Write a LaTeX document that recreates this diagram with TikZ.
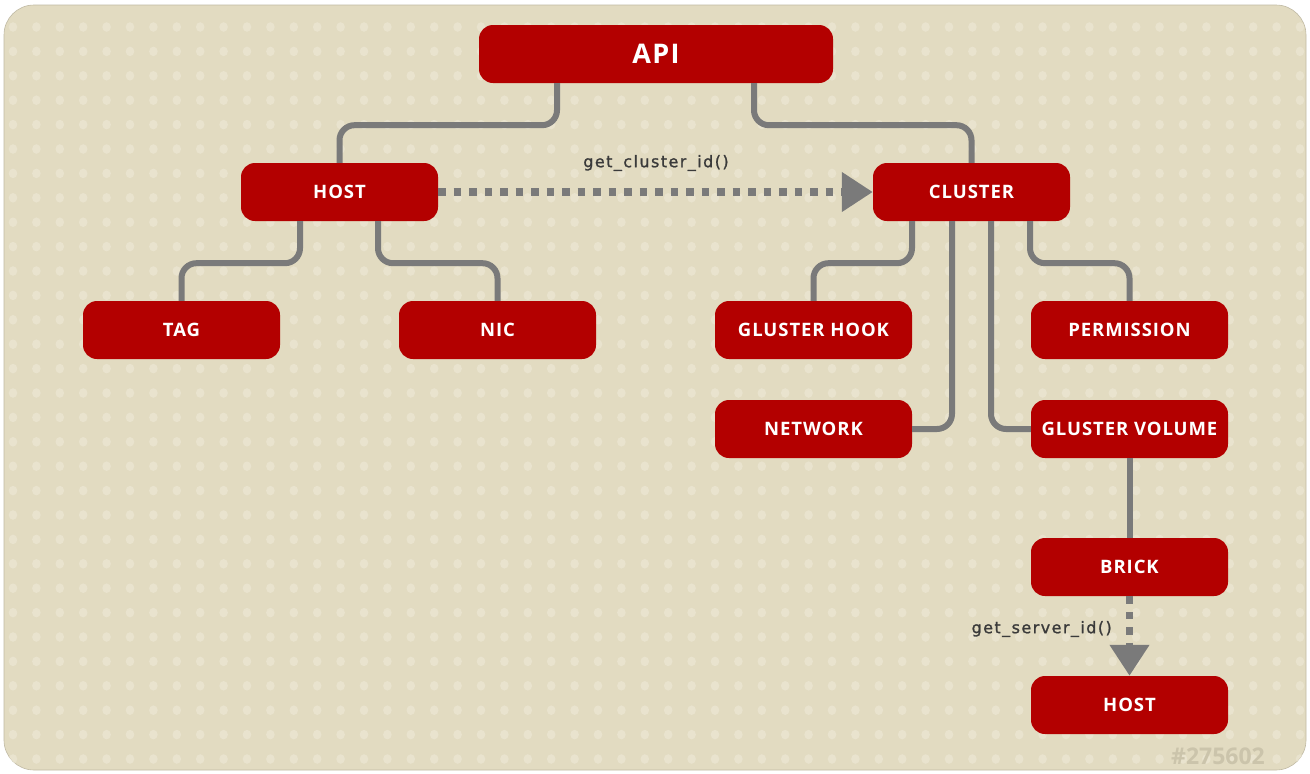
\documentclass[tikz,border=0pt]{standalone}
\usepackage{fontspec}
\setmainfont{Open Sans}
\newfontfamily\boxfont[LetterSpace=5]{Open Sans}
\newfontfamily\labelfont[LetterSpace=9,FakeBold=1.2]{DejaVu Sans}
\usetikzlibrary{arrows.meta}
\definecolor{bgbeige}{HTML}{E2DBC1}
\definecolor{dotc}{HTML}{E9E3CE}
\definecolor{boxred}{HTML}{B30000}
\definecolor{linegray}{HTML}{7A7A7A}
\definecolor{labelgray}{HTML}{3A3A3A}
\definecolor{idgray}{HTML}{CBC4AB}
\tikzset{
  entity/.style={rectangle, rounded corners=14pt, fill=boxred, text=white,
    minimum width=197pt, minimum height=58pt, inner sep=0pt,
    font=\boxfont\fontsize{18.5}{21}\selectfont\bfseries},
  conn/.style={draw=linegray, line width=6pt, rounded corners=15pt},
  call/.style={draw=linegray, line width=7.5pt, dash pattern=on 7.5pt off 8pt,
    -{Triangle[width=38pt,length=31pt]}},
  calllabel/.style={text=labelgray, font=\labelfont\fontsize{16}{19}\selectfont, inner sep=0pt}
}
\begin{document}
\begin{tikzpicture}[x=1pt,y=-1pt]
\useasboundingbox (0,0) rectangle (1310,774);
\fill[white] (0,0) rectangle (1310,774);
\fill[bgbeige, draw=bgbeige!85!black, line width=0.6pt, rounded corners=30pt] (4,5) rectangle (1306,770);
\begin{scope}
\clip[rounded corners=30pt] (4,5) rectangle (1306,770);
\foreach \i in {0,...,55} {
  \foreach \j in {0,...,30} {
    \fill[dotc] (13+23.4*\i, 27+24.4*\j) ellipse (4.3pt and 4.8pt);
  }
}
\end{scope}

\node[entity, minimum width=354pt, font=\boxfont\fontsize{27}{30}\selectfont\bfseries] (api) at (656,54) {API};
\node[entity] (host) at (339.5,192) {HOST};
\node[entity] (cluster) at (971.5,192) {CLUSTER};
\node[entity] (tag) at (181.5,330) {TAG};
\node[entity] (nic) at (497.5,330) {NIC};
\node[entity] (hook) at (813.5,330) {GLUSTER HOOK};
\node[entity] (perm) at (1129.5,330) {PERMISSION};
\node[entity] (network) at (813.5,429) {NETWORK};
\node[entity] (gvol) at (1129.5,429) {GLUSTER VOLUME};
\node[entity] (brick) at (1129.5,567) {BRICK};
\node[entity] (host2) at (1129.5,705) {HOST};

% connectors
\draw[conn] ([xshift=-99pt]api.south) -- ++(0,42) -| (host.north);
\draw[conn] ([xshift=98pt]api.south) -- ++(0,42) -| (cluster.north);
\draw[conn] ([xshift=-39.5pt]host.south) -- ++(0,42) -| (tag.north);
\draw[conn] ([xshift=38.5pt]host.south) -- ++(0,42) -| (nic.north);
\draw[conn] ([xshift=-59.5pt]cluster.south) -- ++(0,42) -| (hook.north);
\draw[conn] ([xshift=-19.5pt]cluster.south) |- (network.east);
\draw[conn] ([xshift=19.5pt]cluster.south) |- (gvol.west);
\draw[conn] ([xshift=58.5pt]cluster.south) -- ++(0,42) -| (perm.north);
\draw[conn] (gvol.south) -- (brick.north);

\draw[call] (host.east) -- (cluster.west);
\draw[call] (brick.south) -- (host2.north);

\node[calllabel] (lbl1) at (656,163) {get\_cluster\_id()};
\node[calllabel, anchor=east] (lbl2) at (1112,629) {get\_server\_id()};
\node[text=idgray, font=\fontsize{23}{26}\selectfont\bfseries, anchor=east, inner sep=0pt] (fig) at (1265,756) {\#275602};
\end{tikzpicture}
\end{document}
